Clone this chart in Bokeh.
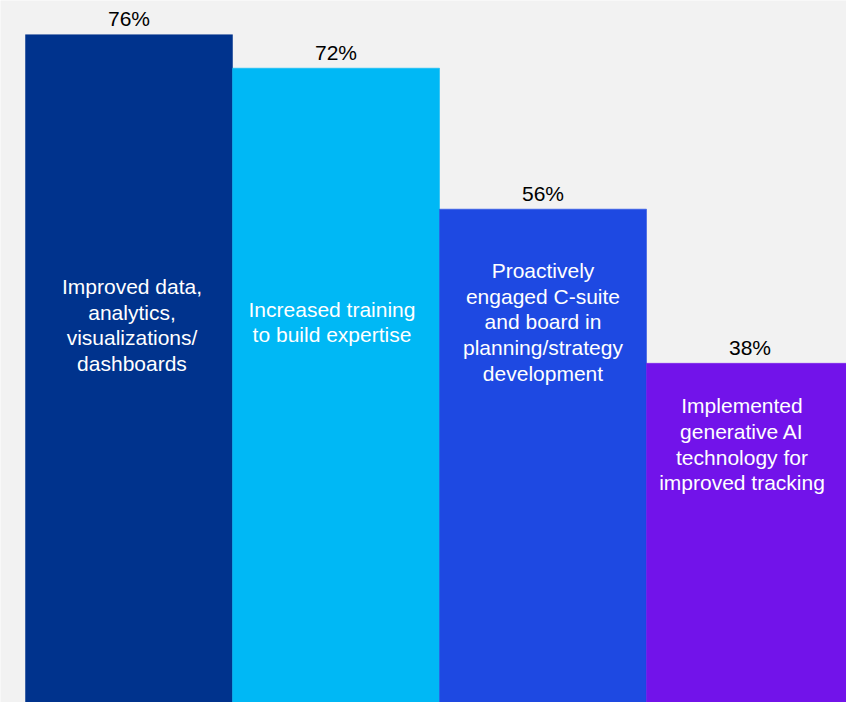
from bokeh.plotting import figure
from bokeh.models import ColumnDataSource, Range1d
from bokeh.core.properties import value
from bokeh.embed import file_html
from bokeh.resources import INLINE

# Data
categories = [
    "Improved data,\nanalytics,\nvisualizations/\ndashboards",
    "Increased training\nto build expertise",
    "Proactively\nengaged C-suite\nand board in\nplanning/strategy\ndevelopment",
    "Implemented\ngenerative AI\ntechnology for\nimproved tracking",
]
values = [75.8, 72.0, 56.0, 38.5]
value_labels = ["76%", "72%", "56%", "38%"]
colors = ["#00338D", "#00B8F5", "#1E49E2", "#7213EA"]

xs = list(range(len(values)))
# vertical centre of the inside label (data units) and small horizontal nudges (px)
label_y = [42.85, 43.2, 43.2, 29.3]
label_dx = [3, -4, 0, -8]

src = ColumnDataSource(dict(x=xs, top=values, color=colors, cat=categories,
                            lab=value_labels, ly=label_y, dx=label_dx))

bg = "#F2F2F2"
p = figure(width=846, height=702, output_backend="svg", toolbar_location=None,
           x_range=Range1d(-0.6208, 3.4662), y_range=Range1d(0, 79.68),
           min_border=0, min_border_left=0, min_border_right=0,
           min_border_top=0, min_border_bottom=0)
p.background_fill_color = bg
p.border_fill_color = bg
p.outline_line_color = None
p.xaxis.visible = False
p.yaxis.visible = False
p.grid.visible = False

p.vbar(x="x", top="top", bottom=0, width=1.0, fill_color="color",
       line_color="color", line_width=0.5, source=src)

p.text(x="x", y="top", text="lab", source=src, text_align="center",
       text_baseline="alphabetic", y_offset=-16, text_color="#000000",
       text_font=value("Liberation Sans"), text_font_size="21px")

p.text(x="x", y="ly", text="cat", source=src, text_align="center",
       x_offset="dx",
       text_baseline="middle", text_color="#FFFFFF", text_line_height=1.12,
       text_font=value("Liberation Sans"), text_font_size="21px")

open("out.html", "w").write(file_html(p, INLINE))
